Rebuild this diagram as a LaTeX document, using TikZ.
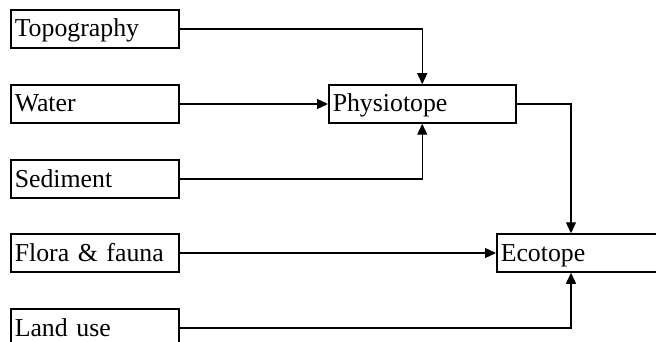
\documentclass[tikz,border=0pt]{standalone}
\usepackage{fontspec}
\setmainfont{Liberation Serif}
\usepackage{tikz}
\usetikzlibrary{arrows.meta}

\begin{document}
\begin{tikzpicture}[x=1pt,y=-1pt,
  faktor/.style={draw,line width=1.5pt,rectangle,anchor=west,minimum height=38pt,
    text width=160pt,inner xsep=4pt,inner ysep=0pt,align=left,
    text height=19pt,text depth=3pt,
    font=\fontsize{25.8}{30}\selectfont},
  pil/.style={line width=1.3pt,-{Triangle[length=11pt,width=10pt]}}]
% rammen
\clip (0,0) rectangle (656,342);
% tegn kasser
\node[faktor] (topo) at (10,29) {Topography};
\node[faktor] (water) at (10,104) {Water};
\node[faktor] (sed) at (10,179) {Sediment};
\node[faktor] (flora) at (10,253) {Flora \& fauna};
\node[faktor] (land) at (10,328) {Land use};
\node[faktor,text width=179pt] (physio) at (328,104) {Physiotope};
\node[faktor,text width=179pt] (eco) at (496,253) {Ecotope};
\coordinate (ecoind) at (571,253);
% tegn pile
\draw[pil] (topo.east) -| (physio.north);
\draw[pil] (water.east) -- (physio.west);
\draw[pil] (sed.east) -| (physio.south);
\draw[pil] (physio.east) -| (ecoind |- eco.north);
\draw[pil] (flora.east) -- (eco.west);
\draw[pil] (land.east) -| (ecoind |- eco.south);
\end{tikzpicture}
\end{document}
